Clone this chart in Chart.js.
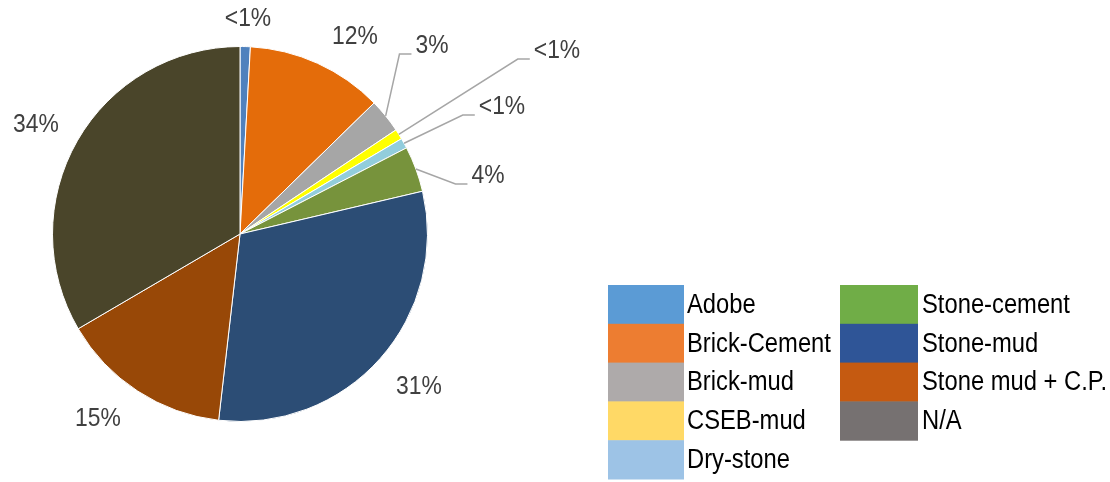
<!DOCTYPE html>
<html>
<head>
<meta charset="utf-8">
<script src="https://cdn.jsdelivr.net/npm/chart.js@4.4.1/dist/chart.umd.min.js"></script>
<style>
  html, body { margin: 0; padding: 0; background: #fff; }
  canvas { display: block; }
</style>
</head>
<body>
<canvas id="wallChart" width="1110" height="482"></canvas>
<script>
const categories = ['Adobe', 'Brick-Cement', 'Brick-mud', 'CSEB-mud', 'Dry-stone',
  'Stone-cement', 'Stone-mud', 'Stone mud + C.P.', 'N/A'];
const shares = [0.9, 12, 3, 0.9, 0.9, 4, 31, 15, 34];

const sliceColors = ['#4f81bd', '#e46c0a', '#a6a6a6', '#ffff00', '#92cddc',
  '#77933c', '#2c4d75', '#984807', '#4a452a'];
const legendColors = ['#5b9bd5', '#ed7d31', '#aeaaaa', '#ffd966', '#9dc3e6',
  '#70ad47', '#2f5597', '#c55a11', '#767171'];

// label centre relative to pie centre, and whether a leader line is drawn
const labelOffsets = [[8, -215], [115, -197], [192, -188], [317, -183], [262, -127],
  [248, -58], [179, 153], [-142, 185], [-204, -109]];
const leaders = [false, false, true, true, true, true, false, false, false];

const FONT = '"Liberation Sans", Arial, sans-serif';
// squeeze the sans face a little so it runs as narrow as Calibri
const SQUEEZE = 0.88;

const pctText = v => (v < 1 ? '<1%' : Math.round(v) + '%');

function narrowText(ctx, text, x, y) {
  ctx.fillText(text, x, y, ctx.measureText(text).width * SQUEEZE);
}

const sliceLabels = {
  id: 'sliceLabels',
  afterDatasetsDraw(chart) {
    const ctx = chart.ctx;
    const arcs = chart.getDatasetMeta(0).data;
    ctx.save();
    ctx.font = '26px ' + FONT;
    ctx.fillStyle = '#404040';
    ctx.textAlign = 'center';
    ctx.textBaseline = 'middle';
    arcs.forEach((arc, i) => {
      const cx = arc.x, cy = arc.y;
      const tx = cx + labelOffsets[i][0];
      const ty = cy + labelOffsets[i][1];
      const text = pctText(shares[i]);
      if (leaders[i]) {
        const mid = (arc.startAngle + arc.endAngle) / 2;
        const sx = cx + Math.cos(mid) * arc.outerRadius;
        const sy = cy + Math.sin(mid) * arc.outerRadius;
        const left = tx - ctx.measureText(text).width * SQUEEZE / 2 - 4;
        ctx.strokeStyle = '#a6a6a6';
        ctx.lineWidth = 1.5;
        ctx.beginPath();
        ctx.moveTo(sx, sy);
        ctx.lineTo(left - 12, ty + 8);
        ctx.lineTo(left, ty + 8);
        ctx.stroke();
      }
      narrowText(ctx, text, tx, ty);
    });
    ctx.restore();
  }
};

const boxLegend = {
  id: 'boxLegend',
  afterDraw(chart) {
    const ctx = chart.ctx;
    const cols = [{ x: 608, w: 76, tx: 687 }, { x: 840, w: 78, tx: 922 }];
    const top = 285, rowH = 38.8;
    ctx.save();
    ctx.font = '27px ' + FONT;
    ctx.textBaseline = 'middle';
    categories.forEach((name, i) => {
      const col = cols[i < 5 ? 0 : 1];
      const row = i < 5 ? i : i - 5;
      const y = top + row * rowH;
      ctx.fillStyle = legendColors[i];
      ctx.fillRect(col.x, y, col.w, rowH + 0.5);
      ctx.fillStyle = '#000';
      narrowText(ctx, name, col.tx, y + rowH / 2 + 1);
    });
    ctx.restore();
  }
};

new Chart(document.getElementById('wallChart'), {
  type: 'pie',
  data: {
    labels: categories,
    datasets: [{
      data: shares,
      backgroundColor: sliceColors,
      borderColor: '#ffffff',
      borderWidth: 1
    }]
  },
  options: {
    responsive: false,
    animation: false,
    layout: { padding: { left: 52, right: 682, top: 46, bottom: 60 } },
    plugins: {
      legend: { display: false },
      tooltip: { enabled: false }
    }
  },
  plugins: [sliceLabels, boxLegend]
});
</script>
</body>
</html>
